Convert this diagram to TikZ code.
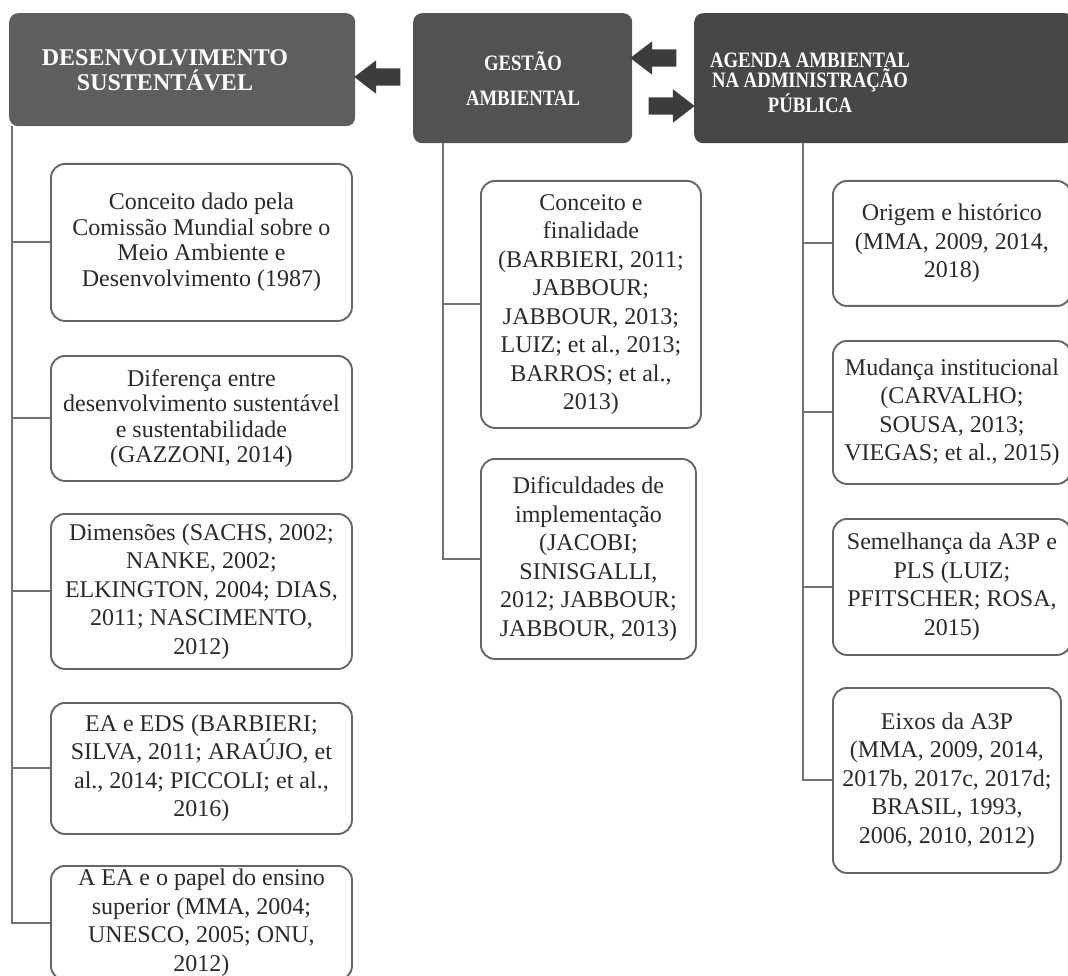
\documentclass[tikz,border=0pt]{standalone}
\usepackage{fontspec}
\setmainfont{Liberation Serif}
\newfontfamily\headnarrow{Liberation Serif}[FakeStretch=0.85]
\usepackage{tikz}
\usetikzlibrary{positioning,shapes.arrows}
\definecolor{headlight}{HTML}{5E5E5E}
\definecolor{headmid}{HTML}{525252}
\definecolor{headdark}{HTML}{474747}
\definecolor{arrowgray}{HTML}{3C3C3C}
\definecolor{framegray}{HTML}{666666}
\definecolor{linkgray}{HTML}{727272}
\definecolor{textgray}{HTML}{2A2A2A}
\tikzset{
  headbox/.style={draw=none,rounded corners=9pt,anchor=north west,inner sep=0pt},
  headtext/.style={text=white,inner sep=0pt,align=center},
  topicbox/.style={draw=framegray,line width=1.9pt,rounded corners=14pt,fill=white,anchor=north west,inner sep=0pt,align=center,text=textgray,font=\fontsize{24}{28.5}\selectfont},
  tightbox/.style={topicbox,font=\fontsize{24}{25.5}\selectfont},
  link/.style={draw=linkgray,line width=2pt},
  blockarrow/.style={single arrow,fill=arrowgray,draw=none,minimum height=46pt,minimum width=33pt,inner sep=8.5pt,single arrow head extend=8pt,single arrow tip angle=75}
}
\begin{document}
\begin{tikzpicture}[x=1pt,y=-1pt]
  \useasboundingbox[fill=white] (0,0) rectangle (1068,976);
  \node[headbox,fill=headlight,minimum width=346pt,minimum height=113pt] (ds) at (9,13) {};
  \node[headbox,fill=headmid,minimum width=219pt,minimum height=130pt] (ga) at (413,13) {};
  \node[headbox,fill=headdark,minimum width=380pt,minimum height=130pt] (aap) at (694,13) {};
  \node[headtext,font=\bfseries\fontsize{24}{25}\selectfont] (dslabel) at (165,70) {DESENVOLVIMENTO\\SUSTENTÁVEL};
  \node[headtext,font=\headnarrow\bfseries\fontsize{22}{35}\selectfont] (galabel) at (523,79) {GESTÃO\\AMBIENTAL};
  \node[headtext,font=\headnarrow\bfseries\fontsize{22}{20}\selectfont] (aaplabel) at (810,83) {AGENDA AMBIENTAL\\NA ADMINISTRAÇÃO\\PÚBLICA};
  \node[blockarrow,shape border rotate=180] (toDs) at (383,77) {};
  \node[blockarrow,shape border rotate=180] (toGa) at (659,58) {};
  \node[blockarrow] (toAap) at (666,106) {};

  \node[tightbox,minimum width=301pt,minimum height=157pt] (d1) at (50,163) {Conceito dado pela\\Comissão Mundial sobre o\\Meio Ambiente e\\Desenvolvimento (1987)};
  \node[tightbox,minimum width=301pt,minimum height=125pt] (d2) at (50,355) {Diferença entre\\desenvolvimento sustentável\\e sustentabilidade\\(GAZZONI, 2014)};
  \node[topicbox,minimum width=301pt,minimum height=155pt] (d3) at (50,513) {Dimensões (SACHS, 2002;\\NANKE, 2002;\\ELKINGTON, 2004; DIAS,\\2011; NASCIMENTO,\\2012)};
  \node[topicbox,minimum width=301pt,minimum height=131pt] (d4) at (50,702) {EA e EDS (BARBIERI;\\SILVA, 2011; ARAÚJO, et\\al., 2014; PICCOLI; et al.,\\2016)};
  \node[topicbox,minimum width=301pt,minimum height=114pt] (d5) at (50,865) {A EA e o papel do ensino\\superior (MMA, 2004;\\UNESCO, 2005; ONU,\\2012)};

  \node[topicbox,minimum width=220pt,minimum height=247pt] (g1) at (480,180) {Conceito e\\finalidade\\(BARBIERI, 2011;\\JABBOUR;\\JABBOUR, 2013;\\LUIZ; et al., 2013;\\BARROS; et al.,\\2013)};
  \node[topicbox,minimum width=215pt,minimum height=200pt] (g2) at (480,458) {Dificuldades de\\implementação\\(JACOBI;\\SINISGALLI,\\2012; JABBOUR;\\JABBOUR, 2013)};

  \node[topicbox,minimum width=238pt,minimum height=125pt] (a1) at (832,180) {Origem e histórico\\(MMA, 2009, 2014,\\2018)};
  \node[topicbox,minimum width=238pt,minimum height=143pt] (a2) at (832,340) {Mudança institucional\\(CARVALHO;\\SOUSA, 2013;\\VIEGAS; et al., 2015)};
  \node[topicbox,minimum width=238pt,minimum height=136pt] (a3) at (832,518) {Semelhança da A3P e\\PLS (LUIZ;\\PFITSCHER; ROSA,\\2015)};
  \node[topicbox,minimum width=228pt,minimum height=185pt] (a4) at (832,687) {Eixos da A3P\\(MMA, 2009, 2014,\\2017b, 2017c, 2017d;\\BRASIL, 1993,\\2006, 2010, 2012)};

  \coordinate (dsroot) at (12,126);
  \coordinate (garoot) at (443,143);
  \coordinate (aaproot) at (803,143);
  \draw[link] (dsroot) |- (d1.west) (dsroot) |- (d2.west) (dsroot) |- (d3.west) (dsroot) |- (d4.west) (dsroot) |- (d5.west);
  \draw[link] (garoot) |- (g1.west) (garoot) |- (g2.west);
  \draw[link] (aaproot) |- (a1.west) (aaproot) |- (a2.west) (aaproot) |- (a3.west) (aaproot) |- (a4.west);
\end{tikzpicture}
\end{document}
